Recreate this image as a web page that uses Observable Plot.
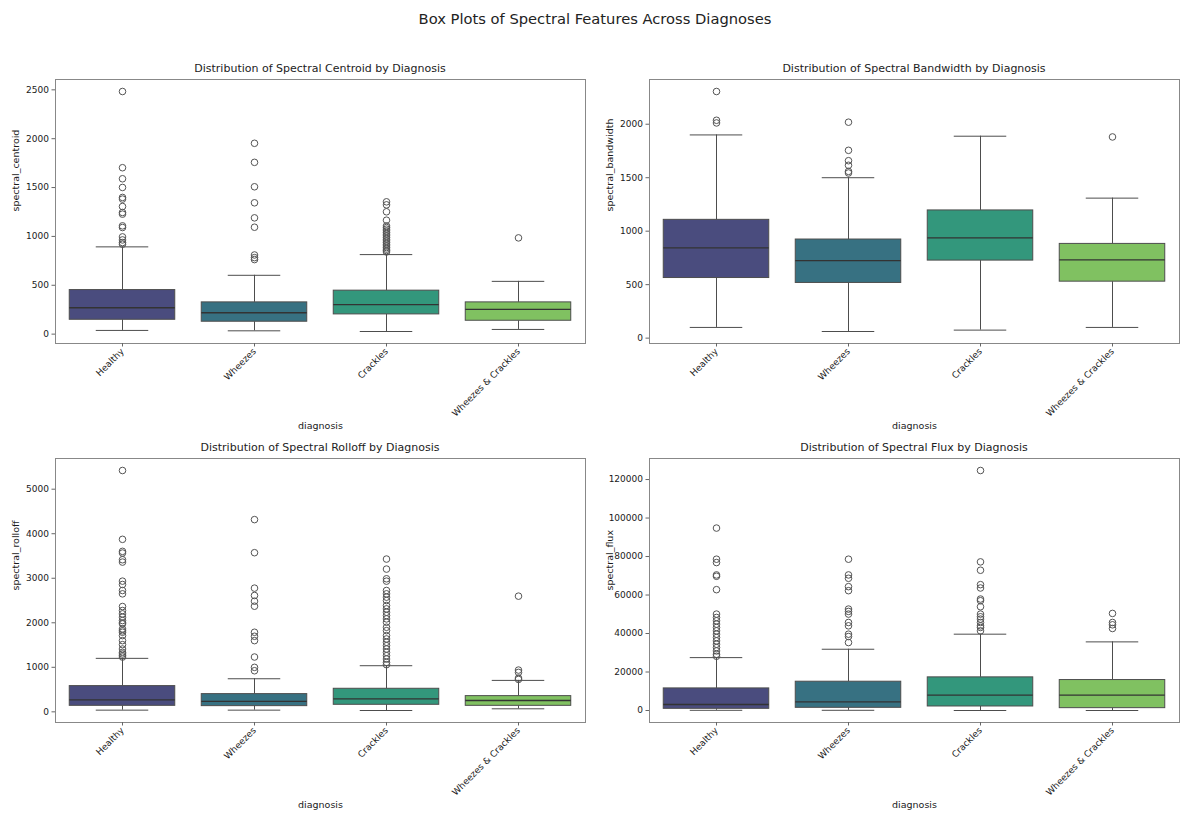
<!DOCTYPE html>
<html>
<head>
<meta charset="utf-8">
<script src="https://cdn.jsdelivr.net/npm/d3@7"></script>
<script src="https://cdn.jsdelivr.net/npm/@observablehq/plot@0.6"></script>
<style>
  html, body { margin: 0; padding: 0; background: #fff; }
  #root { position: relative; width: 1202px; height: 834px; background: #fff; font-family: "DejaVu Sans", sans-serif; color: #222; }
  .suptitle { position: absolute; left: 0; width: 1190px; top: 10px; text-align: center; font-size: 14.7px; }
  .subtitle { position: absolute; width: 530px; text-align: center; font-size: 11px; }
  .panel { position: absolute; }
</style>
</head>
<body>
<div id="root">
  <div class="suptitle">Box Plots of Spectral Features Across Diagnoses</div>
</div>
<script>
// ---- categories ----
const diagnoses = ["Healthy", "Wheezes", "Crackles", "Wheezes & Crackles"];
const palette = ["#4a4c7e", "#377182", "#33977c", "#80c161"];

// ---- box statistics per diagnosis: [lower whisker, Q1, median, Q3, upper whisker] ----
const centroidBox = [
  [38, 147, 270, 451, 893],
  [34, 127, 219, 325, 602],
  [27, 202, 301, 445, 814],
  [48, 137, 253, 325, 540]
];
const centroidOutliers = [
  [2483, 1703, 1590, 1501, 1399, 1382, 1306, 1245, 1228, 1108, 1091, 995, 964, 937, 920],
  [1953, 1758, 1508, 1344, 1190, 1094, 810, 783, 763],
  [1354, 1323, 1252, 1166, 1108, 1091, 1074, 1057, 1040, 1023, 1006, 988, 971, 954, 937, 920, 903, 886, 870, 855, 841],
  [985]
];

const bandwidthBox = [
  [100, 562, 844, 1106, 1900],
  [62, 516, 725, 922, 1500],
  [75, 725, 938, 1194, 1888],
  [100, 528, 731, 881, 1309]
];
const bandwidthOutliers = [
  [2306, 2037, 2012],
  [2019, 1756, 1659, 1616, 1559, 1544],
  [],
  [1881]
];

const rolloffBox = [
  [38, 135, 270, 578, 1201],
  [38, 128, 233, 398, 743],
  [30, 158, 293, 518, 1036],
  [68, 135, 255, 353, 706]
];
const rolloffOutliers = [
  [5420, 3874, 3604, 3566, 3416, 3363, 2935, 2860, 2725, 2650, 2365, 2275, 2200, 2125, 2050, 2000, 1975, 1862, 1820, 1787, 1712, 1599, 1509, 1411, 1336, 1300, 1261, 1230],
  [4317, 3574, 2778, 2613, 2485, 2372, 1787, 1697, 1599, 1231, 999, 923],
  [3431, 3206, 2988, 2935, 2725, 2650, 2575, 2500, 2387, 2312, 2237, 2162, 2087, 2012, 1899, 1824, 1712, 1637, 1562, 1486, 1411, 1336, 1261, 1186, 1111, 1059],
  [2598, 938, 886, 758, 728]
];

const fluxBox = [
  [100, 870, 3130, 11478, 27478],
  [100, 1391, 4522, 14957, 31826],
  [0, 2087, 8000, 17217, 39652],
  [0, 1217, 8000, 15826, 35652]
];
const fluxOutliers = [
  [94783, 78609, 76870, 70435, 69739, 62783, 50087, 48348, 46609, 44870, 43130, 41391, 39652, 37913, 36174, 34435, 32696, 30957, 29217, 28174],
  [78609, 70435, 68696, 64348, 62261, 52696, 51478, 50087, 45739, 44000, 39652, 38435, 35304],
  [124696, 77217, 72870, 65391, 63652, 57913, 57043, 53913, 50087, 48696, 47478, 45739, 44000, 43130, 41391],
  [50435, 45739, 44522, 42609]
];

// ---- y tick labels ----
const centroidTicks = [0, 500, 1000, 1500, 2000, 2500];
const bandwidthTicks = [0, 500, 1000, 1500, 2000];
const rolloffTicks = [0, 1000, 2000, 3000, 4000, 5000];
const fluxTicks = [0, 20000, 40000, 60000, 80000, 100000, 120000];

// ---- panels ----
const panels = [
  {title: "Distribution of Spectral Centroid by Diagnosis", ylabel: "spectral_centroid", box: centroidBox, out: centroidOutliers, ticks: centroidTicks, fx: 55, fy: 79},
  {title: "Distribution of Spectral Bandwidth by Diagnosis", ylabel: "spectral_bandwidth", box: bandwidthBox, out: bandwidthOutliers, ticks: bandwidthTicks, fx: 649, fy: 79},
  {title: "Distribution of Spectral Rolloff by Diagnosis", ylabel: "spectral_rolloff", box: rolloffBox, out: rolloffOutliers, ticks: rolloffTicks, fx: 55, fy: 458},
  {title: "Distribution of Spectral Flux by Diagnosis", ylabel: "spectral_flux", box: fluxBox, out: fluxOutliers, ticks: fluxTicks, fx: 649, fy: 458}
];

const FW = 530, FH = 264;
const ML = 55, MR = 12, MT = 8, MB = 100;
const lineColor = "#4d4d4d";
const root = document.getElementById("root");

for (const p of panels) {
  const boxes = diagnoses.map((d, i) => ({
    diagnosis: d, lo: p.box[i][0], q1: p.box[i][1], med: p.box[i][2], q3: p.box[i][3], hi: p.box[i][4]
  }));
  const outs = diagnoses.flatMap((d, i) => p.out[i].map(v => ({diagnosis: d, value: v})));
  const all = boxes.flatMap(b => [b.lo, b.hi]).concat(outs.map(o => o.value));
  const mn = d3.min(all), mx = d3.max(all), pad = (mx - mn) * 0.05;
  const band = FW / diagnoses.length;
  const boxInset = band * 0.1;
  const capInset = band * 0.3;

  const chart = Plot.plot({
    width: FW + ML + MR,
    height: FH + MT + MB,
    marginLeft: ML, marginRight: MR, marginTop: MT, marginBottom: MB,
    style: {fontFamily: "DejaVu Sans, sans-serif", fontSize: "9px", color: "#1a1a1a", background: "transparent", overflow: "visible"},
    x: {domain: diagnoses, padding: 0, label: null},
    y: {domain: [mn - pad, mx + pad], label: null},
    color: {domain: diagnoses, range: palette},
    marks: [
      Plot.ruleX(boxes, {x: "diagnosis", y1: "q3", y2: "hi", stroke: lineColor, strokeWidth: 1}),
      Plot.ruleX(boxes, {x: "diagnosis", y1: "lo", y2: "q1", stroke: lineColor, strokeWidth: 1}),
      Plot.tickY(boxes, {x: "diagnosis", y: "hi", stroke: lineColor, strokeWidth: 1, insetLeft: capInset, insetRight: capInset}),
      Plot.tickY(boxes, {x: "diagnosis", y: "lo", stroke: lineColor, strokeWidth: 1, insetLeft: capInset, insetRight: capInset}),
      Plot.barY(boxes, {x: "diagnosis", y1: "q1", y2: "q3", fill: "diagnosis", stroke: lineColor, strokeWidth: 1, insetLeft: boxInset, insetRight: boxInset}),
      Plot.tickY(boxes, {x: "diagnosis", y: "med", stroke: "#333", strokeWidth: 1.3, insetLeft: boxInset, insetRight: boxInset}),
      Plot.dot(outs, {x: "diagnosis", y: "value", r: 3.3, stroke: "#555", fill: "none", strokeWidth: 1}),
      Plot.frame({stroke: "#888", strokeWidth: 1}),
      Plot.axisY({ticks: p.ticks, tickFormat: d => String(d), tickSize: 3.5, tickPadding: 3, label: null, fontSize: 9, stroke: "#666", fill: "#1a1a1a"}),
      Plot.axisX({tickRotate: -45, tickSize: 3.5, tickPadding: 3, label: null, fontSize: 9, stroke: "#666", fill: "#1a1a1a"}),
      Plot.text([p.ylabel], {frameAnchor: "left", dx: -40, rotate: -90, text: d => d, fontSize: 9.5, fill: "#1a1a1a"}),
      Plot.text(["diagnosis"], {frameAnchor: "bottom", dy: 85, text: d => d, fontSize: 9.5, fill: "#1a1a1a"})
    ]
  });
  chart.classList.add("panel");
  chart.style.left = (p.fx - ML) + "px";
  chart.style.top = (p.fy - MT) + "px";
  root.appendChild(chart);

  const t = document.createElement("div");
  t.className = "subtitle";
  t.textContent = p.title;
  t.style.left = p.fx + "px";
  t.style.top = (p.fy - 17) + "px";
  root.appendChild(t);
}
</script>
</body>
</html>
